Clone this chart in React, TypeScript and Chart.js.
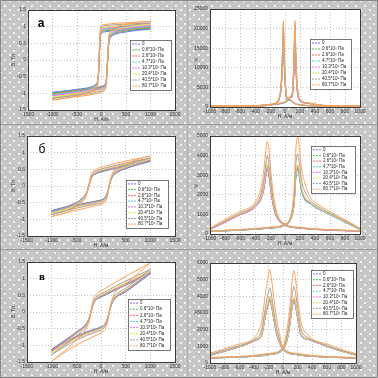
import React, { useEffect, useRef } from "react";
import { Chart, registerables } from "chart.js";
Chart.register(...registerables);

const SERIES_LABELS = ["0", "0.6*10⁶ Па", "2.6*10⁶ Па", "4.7*10⁶ Па", "10.3*10⁶ Па", "20.4*10⁶ Па", "40.5*10⁶ Па", "80.7*10⁶ Па"];
const SERIES_COLORS = ["#6f6fff", "#4fbf4f", "#ff6464", "#4fd6d6", "#f070f0", "#e6e24a", "#a0a0a0", "#ffa35c"];

const B_TICKS = { min: -1.5, max: 1.5, step: 0.5 };
const H_TICKS_LOOP = { min: -1500, max: 1500, step: 500 };
const H_TICKS_MU = { min: -1000, max: 1000, step: 200 };

// ---- Panel а: hysteresis
const H_A_DOWN = [1000, 500, 200, 50, 0, -15, -30, -45, -60, -80, -120, -200, -500, -1000];
const B_A_DOWN = [
  [0.93, 0.90, 0.87, 0.84, 0.82, 0.76, 0.55, 0.05, -0.42, -0.64, -0.73, -0.80, -0.88, -0.97],
  [0.96, 0.93, 0.90, 0.87, 0.85, 0.79, 0.59, 0.09, -0.40, -0.65, -0.75, -0.82, -0.90, -0.99],
  [0.99, 0.96, 0.93, 0.90, 0.88, 0.82, 0.62, 0.12, -0.39, -0.66, -0.76, -0.84, -0.92, -1.02],
  [1.01, 0.98, 0.95, 0.92, 0.90, 0.84, 0.64, 0.14, -0.38, -0.67, -0.77, -0.85, -0.94, -1.04],
  [1.04, 1.01, 0.98, 0.95, 0.93, 0.87, 0.67, 0.17, -0.37, -0.69, -0.79, -0.87, -0.97, -1.07],
  [1.07, 1.04, 1.01, 0.98, 0.96, 0.90, 0.71, 0.21, -0.35, -0.71, -0.82, -0.90, -1.00, -1.11],
  [1.11, 1.08, 1.05, 1.02, 1.00, 0.94, 0.75, 0.25, -0.33, -0.73, -0.85, -0.93, -1.04, -1.15],
  [1.16, 1.12, 1.09, 1.06, 1.04, 0.98, 0.80, 0.30, -0.31, -0.76, -0.88, -0.96, -1.08, -1.20],
];
const H_A_UP = [-1000, -500, -200, -50, 0, 50, 90, 110, 130, 150, 180, 250, 500, 1000];
const B_A_UP = [
  [-0.97, -0.90, -0.85, -0.81, -0.79, -0.76, -0.66, -0.40, 0.10, 0.50, 0.66, 0.75, 0.84, 0.93],
  [-0.99, -0.92, -0.87, -0.83, -0.81, -0.78, -0.68, -0.40, 0.12, 0.53, 0.69, 0.78, 0.87, 0.96],
  [-1.02, -0.94, -0.89, -0.85, -0.83, -0.80, -0.70, -0.41, 0.13, 0.55, 0.71, 0.80, 0.90, 0.99],
  [-1.04, -0.96, -0.91, -0.87, -0.85, -0.82, -0.71, -0.41, 0.14, 0.57, 0.73, 0.82, 0.92, 1.01],
  [-1.07, -0.99, -0.93, -0.89, -0.87, -0.84, -0.73, -0.42, 0.16, 0.60, 0.76, 0.85, 0.95, 1.04],
  [-1.11, -1.02, -0.96, -0.92, -0.90, -0.87, -0.76, -0.43, 0.18, 0.63, 0.79, 0.88, 0.98, 1.07],
  [-1.15, -1.06, -1.00, -0.95, -0.93, -0.90, -0.79, -0.44, 0.20, 0.66, 0.83, 0.92, 1.02, 1.11],
  [-1.20, -1.10, -1.04, -0.99, -0.97, -0.93, -0.82, -0.45, 0.22, 0.70, 0.87, 0.96, 1.07, 1.16],
];

// ---- Panel б: hysteresis
const H_B_DOWN = [1000, 600, 300, 100, 0, -100, -160, -200, -235, -270, -310, -380, -500, -1000];
const B_B_DOWN = [
  [0.74, 0.63, 0.53, 0.46, 0.42, 0.37, 0.31, 0.22, 0.05, -0.12, -0.25, -0.37, -0.50, -0.74],
  [0.76, 0.64, 0.54, 0.47, 0.43, 0.38, 0.32, 0.23, 0.06, -0.12, -0.26, -0.38, -0.51, -0.76],
  [0.77, 0.65, 0.55, 0.48, 0.44, 0.38, 0.32, 0.23, 0.06, -0.12, -0.26, -0.38, -0.52, -0.77],
  [0.78, 0.66, 0.56, 0.49, 0.45, 0.39, 0.33, 0.24, 0.07, -0.12, -0.27, -0.39, -0.53, -0.78],
  [0.79, 0.67, 0.57, 0.50, 0.46, 0.40, 0.34, 0.25, 0.07, -0.13, -0.27, -0.40, -0.54, -0.80],
  [0.81, 0.69, 0.59, 0.52, 0.48, 0.42, 0.36, 0.27, 0.08, -0.13, -0.28, -0.41, -0.56, -0.82],
  [0.84, 0.72, 0.62, 0.55, 0.51, 0.45, 0.39, 0.30, 0.10, -0.13, -0.30, -0.44, -0.60, -0.86],
  [0.90, 0.78, 0.68, 0.60, 0.56, 0.50, 0.44, 0.35, 0.12, -0.14, -0.33, -0.48, -0.66, -0.92],
];
const H_B_UP = [-1000, -600, -300, -100, 0, 60, 110, 140, 170, 200, 240, 320, 500, 1000];
const B_B_UP = [
  [-0.74, -0.60, -0.51, -0.45, -0.42, -0.37, -0.27, -0.15, 0.02, 0.17, 0.29, 0.40, 0.52, 0.74],
  [-0.76, -0.61, -0.52, -0.46, -0.43, -0.38, -0.28, -0.15, 0.02, 0.18, 0.30, 0.41, 0.53, 0.76],
  [-0.77, -0.62, -0.53, -0.47, -0.44, -0.39, -0.29, -0.16, 0.02, 0.18, 0.30, 0.42, 0.54, 0.77],
  [-0.78, -0.63, -0.54, -0.48, -0.45, -0.40, -0.30, -0.16, 0.02, 0.18, 0.31, 0.43, 0.55, 0.78],
  [-0.80, -0.64, -0.55, -0.49, -0.46, -0.41, -0.31, -0.17, 0.03, 0.19, 0.32, 0.44, 0.56, 0.79],
  [-0.82, -0.66, -0.57, -0.51, -0.48, -0.43, -0.33, -0.18, 0.03, 0.20, 0.34, 0.46, 0.58, 0.81],
  [-0.86, -0.70, -0.60, -0.54, -0.51, -0.46, -0.36, -0.20, 0.04, 0.22, 0.37, 0.49, 0.62, 0.84],
  [-0.92, -0.76, -0.66, -0.59, -0.56, -0.51, -0.41, -0.24, 0.05, 0.25, 0.41, 0.54, 0.68, 0.90],
];

// ---- Panel в: hysteresis
const H_C_DOWN = [1000, 600, 300, 100, 0, -80, -130, -160, -182, -205, -240, -300, -500, -1000];
const B_C_DOWN = [
  [1.15, 0.88, 0.66, 0.52, 0.45, 0.39, 0.31, 0.22, 0.11, -0.01, -0.18, -0.35, -0.60, -1.12],
  [1.17, 0.89, 0.67, 0.53, 0.46, 0.40, 0.32, 0.23, 0.12, -0.01, -0.18, -0.36, -0.61, -1.14],
  [1.18, 0.90, 0.68, 0.54, 0.47, 0.40, 0.32, 0.23, 0.12, -0.01, -0.19, -0.36, -0.62, -1.15],
  [1.19, 0.91, 0.69, 0.55, 0.48, 0.41, 0.33, 0.24, 0.12, -0.01, -0.19, -0.37, -0.63, -1.17],
  [1.20, 0.92, 0.70, 0.56, 0.49, 0.42, 0.34, 0.25, 0.13, -0.01, -0.20, -0.38, -0.64, -1.18],
  [1.23, 0.95, 0.73, 0.58, 0.51, 0.44, 0.36, 0.27, 0.14, -0.01, -0.21, -0.40, -0.67, -1.22],
  [1.28, 1.00, 0.78, 0.62, 0.55, 0.48, 0.39, 0.30, 0.16, 0.00, -0.23, -0.43, -0.72, -1.28],
  [1.47, 1.15, 0.90, 0.72, 0.64, 0.56, 0.47, 0.36, 0.20, 0.01, -0.27, -0.50, -0.85, -1.48],
];
const H_C_UP = [-1000, -600, -300, -100, 0, 60, 100, 130, 150, 170, 200, 260, 500, 1000];
const B_C_UP = [
  [-1.12, -0.80, -0.60, -0.50, -0.45, -0.39, -0.31, -0.20, -0.10, 0.01, 0.16, 0.36, 0.60, 1.15],
  [-1.14, -0.81, -0.61, -0.51, -0.46, -0.40, -0.32, -0.21, -0.10, 0.01, 0.17, 0.37, 0.61, 1.17],
  [-1.15, -0.82, -0.62, -0.52, -0.47, -0.41, -0.32, -0.21, -0.11, 0.01, 0.17, 0.37, 0.62, 1.18],
  [-1.17, -0.83, -0.63, -0.53, -0.48, -0.41, -0.33, -0.22, -0.11, 0.01, 0.17, 0.38, 0.63, 1.19],
  [-1.18, -0.84, -0.64, -0.54, -0.49, -0.42, -0.34, -0.22, -0.11, 0.01, 0.18, 0.39, 0.64, 1.20],
  [-1.22, -0.87, -0.67, -0.56, -0.51, -0.44, -0.36, -0.24, -0.12, 0.01, 0.19, 0.41, 0.67, 1.23],
  [-1.28, -0.92, -0.71, -0.60, -0.55, -0.48, -0.39, -0.26, -0.13, 0.02, 0.21, 0.44, 0.71, 1.28],
  [-1.48, -1.08, -0.84, -0.70, -0.64, -0.56, -0.47, -0.32, -0.16, 0.02, 0.25, 0.52, 0.84, 1.47],
];

// ---- Panel а: permeability
const H_MU_A1 = [-1000, -400, -200, -110, -75, -50, -35, -22, -10, 5, 25, 60, 150, 400, 1000];
const MU_A1 = [
  [150, 250, 500, 1100, 2200, 5700, 11800, 19000, 12400, 5700, 2300, 1800, 700, 300, 150],
  [160, 260, 520, 1150, 2300, 5000, 10200, 16500, 10700, 5000, 2000, 1700, 680, 290, 150],
  [150, 250, 510, 1100, 2250, 5300, 10900, 17500, 11400, 5300, 2100, 1750, 700, 300, 160],
  [170, 270, 530, 1200, 2350, 4800, 9900, 16000, 10400, 4800, 1900, 1700, 690, 300, 150],
  [160, 260, 500, 1120, 2250, 5400, 11200, 18000, 11700, 5400, 2200, 1800, 710, 310, 160],
  [180, 280, 540, 1200, 2400, 6000, 12400, 20000, 13000, 6000, 2400, 1900, 730, 320, 170],
  [190, 290, 560, 1250, 2500, 6300, 13000, 21000, 13600, 6300, 2500, 1950, 750, 330, 170],
  [200, 310, 600, 1300, 2600, 6600, 13600, 22000, 14300, 6600, 2600, 2000, 780, 350, 180],
];
const H_MU_A2 = [-1000, -400, -150, 30, 70, 95, 110, 122, 133, 145, 160, 190, 300, 500, 1000];
const MU_A2 = [
  [150, 300, 700, 1500, 2500, 3100, 7200, 13900, 20500, 12700, 6200, 2100, 1000, 400, 180],
  [150, 290, 680, 1450, 2400, 2600, 6000, 11600, 17000, 10500, 5100, 1900, 950, 390, 170],
  [160, 300, 700, 1500, 2450, 2500, 5600, 10900, 16000, 9900, 4800, 1850, 960, 400, 180],
  [150, 300, 710, 1500, 2500, 2800, 6500, 12600, 18500, 11500, 5600, 2000, 980, 400, 180],
  [160, 310, 720, 1550, 2450, 2400, 5400, 10500, 15500, 9600, 4700, 1800, 950, 390, 170],
  [170, 320, 740, 1600, 2600, 2900, 6800, 13300, 19500, 12100, 5900, 2050, 1000, 410, 190],
  [180, 330, 760, 1650, 2700, 3200, 7400, 14300, 21000, 13000, 6300, 2150, 1050, 420, 200],
  [190, 350, 800, 1700, 2800, 3300, 7700, 15000, 22000, 13600, 6600, 2200, 1100, 450, 210],
];

// ---- Panel б: permeability
const H_MU_B1 = [-1000, -840, -620, -400, -320, -280, -255, -235, -215, -190, -150, -100, 0, 200, 500, 1000];
const MU_B1 = [
  [230, 530, 950, 1380, 1800, 2350, 3020, 3350, 3020, 2280, 1340, 800, 450, 300, 220, 150],
  [240, 540, 960, 1400, 1830, 2420, 3110, 3450, 3110, 2350, 1380, 820, 460, 300, 220, 150],
  [220, 520, 940, 1370, 1790, 2310, 2970, 3300, 2970, 2240, 1320, 790, 450, 300, 210, 140],
  [240, 550, 970, 1410, 1850, 2450, 3150, 3500, 3150, 2380, 1400, 830, 460, 310, 220, 150],
  [230, 530, 950, 1390, 1810, 2380, 3060, 3400, 3060, 2310, 1360, 810, 450, 300, 220, 150],
  [250, 560, 990, 1440, 1900, 2520, 3240, 3600, 3240, 2450, 1440, 850, 470, 310, 230, 160],
  [260, 590, 1030, 1500, 2050, 2800, 3600, 4000, 3600, 2720, 1600, 900, 490, 320, 230, 160],
  [300, 660, 1120, 1620, 2350, 3330, 4280, 4750, 4280, 3230, 1900, 1000, 520, 340, 240, 170],
];
const H_MU_B2 = [-1000, -500, -200, 0, 80, 120, 145, 170, 190, 215, 255, 340, 400, 620, 840, 1000];
const MU_B2 = [
  [120, 220, 300, 450, 800, 1490, 2900, 3300, 2970, 2310, 1820, 1550, 1380, 950, 530, 230],
  [120, 220, 300, 450, 810, 1510, 2950, 3350, 3020, 2350, 1840, 1560, 1390, 960, 540, 230],
  [130, 230, 310, 460, 820, 1530, 2990, 3400, 3060, 2380, 1870, 1570, 1400, 960, 540, 240],
  [120, 220, 300, 450, 790, 1460, 2860, 3250, 2930, 2280, 1790, 1540, 1370, 940, 530, 230],
  [130, 230, 310, 460, 830, 1580, 3080, 3500, 3150, 2450, 1930, 1600, 1420, 970, 550, 240],
  [130, 230, 320, 470, 840, 1600, 3120, 3550, 3200, 2490, 1950, 1610, 1430, 980, 560, 240],
  [140, 240, 330, 490, 900, 1850, 3610, 4100, 3690, 2870, 2260, 1700, 1500, 1020, 590, 260],
  [150, 260, 350, 520, 1000, 2230, 4360, 4950, 4460, 3470, 2720, 1850, 1620, 1100, 650, 290],
];

// ---- Panel в: permeability
const H_MU_C1 = [-1000, -840, -610, -380, -290, -240, -205, -182, -160, -130, -90, -40, 0, 200, 500, 1000];
const MU_C1 = [
  [460, 660, 960, 1360, 1710, 2850, 3500, 3800, 3500, 2740, 1820, 1140, 800, 500, 380, 300],
  [470, 670, 970, 1380, 1760, 2930, 3590, 3900, 3590, 2810, 1870, 1170, 810, 500, 380, 300],
  [450, 650, 950, 1350, 1690, 2810, 3450, 3750, 3450, 2700, 1800, 1130, 790, 490, 370, 290],
  [460, 660, 960, 1370, 1730, 2890, 3540, 3850, 3540, 2770, 1850, 1160, 800, 500, 380, 300],
  [470, 680, 980, 1390, 1780, 2960, 3630, 3950, 3630, 2840, 1900, 1190, 820, 510, 390, 300],
  [480, 690, 990, 1400, 1800, 3000, 3680, 4000, 3680, 2880, 1920, 1200, 820, 510, 390, 310],
  [510, 720, 1030, 1460, 2030, 3380, 4140, 4500, 4140, 3240, 2160, 1320, 860, 530, 400, 310],
  [580, 800, 1130, 1600, 2520, 4200, 5150, 5600, 5150, 4030, 2690, 1600, 950, 570, 420, 330],
];
const H_MU_C2 = [-1000, -500, -200, 0, 40, 80, 110, 130, 150, 170, 200, 245, 355, 630, 840, 1000];
const MU_C2 = [
  [300, 380, 500, 800, 1130, 1880, 2810, 3450, 3750, 3450, 2700, 1690, 1400, 950, 660, 480],
  [300, 380, 500, 810, 1160, 1930, 2890, 3540, 3850, 3540, 2770, 1730, 1410, 960, 660, 480],
  [310, 390, 510, 810, 1170, 1950, 2930, 3590, 3900, 3590, 2810, 1760, 1420, 960, 670, 490],
  [300, 370, 490, 790, 1110, 1850, 2780, 3400, 3700, 3400, 2660, 1670, 1390, 940, 650, 470],
  [300, 380, 500, 800, 1140, 1900, 2850, 3500, 3800, 3500, 2740, 1710, 1400, 950, 660, 480],
  [310, 390, 510, 820, 1190, 1980, 2960, 3630, 3950, 3630, 2840, 1780, 1430, 970, 670, 490],
  [320, 400, 530, 860, 1380, 2300, 3450, 4230, 4600, 4230, 3310, 2070, 1500, 1010, 700, 510],
  [330, 420, 570, 950, 1670, 2780, 4160, 5110, 5550, 5110, 4000, 2500, 1640, 1100, 760, 560],
];

const FONT = "'Liberation Sans', Arial, sans-serif";

type Branch = { h: number[]; v: number[][] };
type PanelSpec = {
  cell: [number, number, number, number];
  plot: [number, number, number, number];
  xt: { min: number; max: number; step: number };
  yt: { min: number; max: number; step: number };
  branches: Branch[];
  yTitle: string;
  yRot: boolean;
  yTitlePos: [number, number];
  letter?: string;
  letterFont?: string;
  letterPos?: [number, number];
  legend: [number, number, number, number];
};

const PANELS: PanelSpec[] = [
  {
    cell: [0, 0, 188, 125], plot: [28, 10, 175, 110], xt: H_TICKS_LOOP, yt: B_TICKS,
    branches: [{ h: H_A_DOWN, v: B_A_DOWN }, { h: H_A_UP, v: B_A_UP }],
    yTitle: "B, Тл", yRot: true, yTitlePos: [14, 60],
    letter: "а", letterFont: `bold 12px ${FONT}`, letterPos: [41, 24], legend: [130, 40, 41, 50],
  },
  {
    cell: [188, 0, 190, 125], plot: [210, 9, 360, 107], xt: H_TICKS_MU, yt: { min: 0, max: 25000, step: 5000 },
    branches: [{ h: H_MU_A1, v: MU_A1 }, { h: H_MU_A2, v: MU_A2 }],
    yTitle: "μ", yRot: false, yTitlePos: [196, 59], legend: [310, 39, 41, 50],
  },
  {
    cell: [0, 125, 188, 125], plot: [27, 136, 175, 236], xt: H_TICKS_LOOP, yt: B_TICKS,
    branches: [{ h: H_B_DOWN, v: B_B_DOWN }, { h: H_B_UP, v: B_B_UP }],
    yTitle: "B, Тл", yRot: true, yTitlePos: [14, 186],
    letter: "б", letterFont: `12px ${FONT}`, letterPos: [42, 150], legend: [126, 180, 42, 48],
  },
  {
    cell: [188, 125, 190, 125], plot: [210, 136, 360, 234], xt: H_TICKS_MU, yt: { min: 0, max: 5000, step: 1000 },
    branches: [{ h: H_MU_B1, v: MU_B1 }, { h: H_MU_B2, v: MU_B2 }],
    yTitle: "μ", yRot: false, yTitlePos: [196, 185], legend: [311, 146, 44, 47],
  },
  {
    cell: [0, 250, 188, 128], plot: [27, 262, 175, 362], xt: H_TICKS_LOOP, yt: B_TICKS,
    branches: [{ h: H_C_DOWN, v: B_C_DOWN }, { h: H_C_UP, v: B_C_UP }],
    yTitle: "B, Тл", yRot: true, yTitlePos: [14, 312],
    letter: "в", letterFont: `bold 11px 'Liberation Serif', serif`, letterPos: [42, 277], legend: [128, 299, 42, 51],
  },
  {
    cell: [188, 250, 190, 128], plot: [210, 263, 356, 363], xt: H_TICKS_MU, yt: { min: 0, max: 6000, step: 1000 },
    branches: [{ h: H_MU_C1, v: MU_C1 }, { h: H_MU_C2, v: MU_C2 }],
    yTitle: "μ", yRot: false, yTitlePos: [196, 311], legend: [311, 270, 42, 48],
  },
];

function panelPlugin(p: PanelSpec) {
  const [cx, cy] = p.cell;
  return {
    id: "panelDeco",
    beforeDatasetsDraw(chart: any) {
      const { ctx, chartArea: a } = chart;
      ctx.save();
      ctx.globalCompositeOperation = "destination-over";
      ctx.fillStyle = "#ffffff";
      ctx.fillRect(a.left, a.top, a.right - a.left, a.bottom - a.top);
      ctx.restore();
    },
    afterDraw(chart: any) {
      const { ctx, chartArea: a } = chart;
      ctx.save();
      ctx.strokeStyle = "#3a3a3a";
      ctx.lineWidth = 1;
      ctx.strokeRect(Math.round(a.left) + 0.5, Math.round(a.top) + 0.5, Math.round(a.right - a.left), Math.round(a.bottom - a.top));
      ctx.fillStyle = "#333";
      ctx.font = `5px ${FONT}`;
      ctx.textAlign = "center";
      ctx.textBaseline = "middle";
      ctx.fillText("H, А/м", (a.left + a.right) / 2, a.bottom + 10);
      const [tx, ty] = p.yTitlePos;
      if (p.yRot) {
        ctx.save();
        ctx.translate(tx - cx, ty - cy);
        ctx.rotate(-Math.PI / 2);
        ctx.fillText(p.yTitle, 0, 0);
        ctx.restore();
      } else {
        ctx.font = `6px ${FONT}`;
        ctx.fillText(p.yTitle, tx - cx, ty - cy);
      }
      if (p.letter && p.letterPos) {
        ctx.font = p.letterFont || `12px ${FONT}`;
        ctx.fillStyle = "#000";
        ctx.fillText(p.letter, p.letterPos[0] - cx, p.letterPos[1] - cy);
      }
      const [lx0, ly0, lw, lh] = p.legend;
      const lx = lx0 - cx, ly = ly0 - cy;
      ctx.fillStyle = "#fff";
      ctx.fillRect(lx, ly, lw, lh);
      ctx.strokeStyle = "#555";
      ctx.lineWidth = 0.8;
      ctx.strokeRect(lx + 0.5, ly + 0.5, lw, lh);
      const rowH = (lh - 2) / SERIES_LABELS.length;
      ctx.textAlign = "left";
      ctx.font = `4.5px ${FONT}`;
      SERIES_LABELS.forEach((lab, s) => {
        const yy = ly + 1 + rowH * (s + 0.5);
        ctx.strokeStyle = SERIES_COLORS[s];
        ctx.lineWidth = 1;
        ctx.setLineDash([2, 1]);
        ctx.beginPath();
        ctx.moveTo(lx + 2, yy);
        ctx.lineTo(lx + 10, yy);
        ctx.stroke();
        ctx.setLineDash([]);
        ctx.fillStyle = "#222";
        ctx.fillText(lab, lx + 12, yy);
      });
      ctx.restore();
    },
  };
}

function Panel({ spec }: { spec: PanelSpec }) {
  const ref = useRef<HTMLCanvasElement | null>(null);
  useEffect(() => {
    const p = spec;
    const [cx, cy, cw, ch] = p.cell;
    const [L, T, R, B] = p.plot;
    const datasets: any[] = [];
    p.branches.forEach((br) => {
      br.v.forEach((vals, s) => {
        datasets.push({
          label: SERIES_LABELS[s],
          data: br.h.map((x, i) => ({ x, y: vals[i] })).sort((m, n) => m.x - n.x),
          borderColor: SERIES_COLORS[s],
          backgroundColor: SERIES_COLORS[s],
          borderWidth: 1,
          pointRadius: 0,
          fill: false,
          cubicInterpolationMode: "monotone",
          order: 7 - s,
        });
      });
    });
    const tickFont = { family: FONT, size: 5 };
    const chart = new Chart(ref.current as HTMLCanvasElement, {
      type: "line",
      data: { datasets },
      options: {
        animation: false,
        responsive: false,
        maintainAspectRatio: false,
        events: [],
        layout: { padding: { left: 0, top: T - cy, right: cx + cw - R, bottom: 0 } },
        plugins: { legend: { display: false }, tooltip: { enabled: false } },
        scales: {
          x: {
            type: "linear",
            min: p.xt.min,
            max: p.xt.max,
            afterFit: (s: any) => { s.height = cy + ch - B; },
            ticks: { stepSize: p.xt.step, callback: (v: any) => String(v), font: tickFont, color: "#333", padding: 2, maxRotation: 0, autoSkip: false },
            grid: { color: "#b4b4b4", lineWidth: 0.8, drawTicks: false },
            border: { display: false, dash: [1, 2] },
          },
          y: {
            type: "linear",
            min: p.yt.min,
            max: p.yt.max,
            afterFit: (s: any) => { s.width = L - cx; },
            ticks: { stepSize: p.yt.step, callback: (v: any) => String(v), font: tickFont, color: "#333", padding: 2, autoSkip: false },
            grid: { color: "#b4b4b4", lineWidth: 0.8, drawTicks: false },
            border: { display: false, dash: [1, 2] },
          },
        },
      } as any,
      plugins: [panelPlugin(p) as any],
    });
    return () => chart.destroy();
  }, [spec]);
  const [cx, cy, cw, ch] = spec.cell;
  return (
    <canvas
      ref={ref}
      width={cw}
      height={ch}
      style={{ position: "absolute", left: cx, top: cy, width: cw, height: ch }}
    />
  );
}

export default function App() {
  return (
    <div
      style={{
        position: "fixed",
        left: 0,
        top: 0,
        width: 378,
        height: 378,
        overflow: "hidden",
        backgroundColor: "#c6c6c6",
        backgroundImage:
          "radial-gradient(circle at 1px 1px, #f4f4f4 0.7px, transparent 1px), radial-gradient(circle at 1px 1px, #f4f4f4 0.7px, transparent 1px)",
        backgroundSize: "9px 9px, 9px 9px",
        backgroundPosition: "0 0, 4px 5px",
      }}
    >
      <div style={{ position: "absolute", left: 0, top: 124, width: 378, height: 1, background: "#9a9a9a" }} />
      <div style={{ position: "absolute", left: 0, top: 249, width: 378, height: 1, background: "#9a9a9a" }} />
      <div style={{ position: "absolute", left: 187, top: 0, width: 1, height: 378, background: "#b0b0b0" }} />
      <div style={{ position: "absolute", left: 0, top: 0, width: 376, height: 376, border: "1px solid #8a8a8a" }} />
      {PANELS.map((p, i) => (
        <Panel key={i} spec={p} />
      ))}
    </div>
  );
}
